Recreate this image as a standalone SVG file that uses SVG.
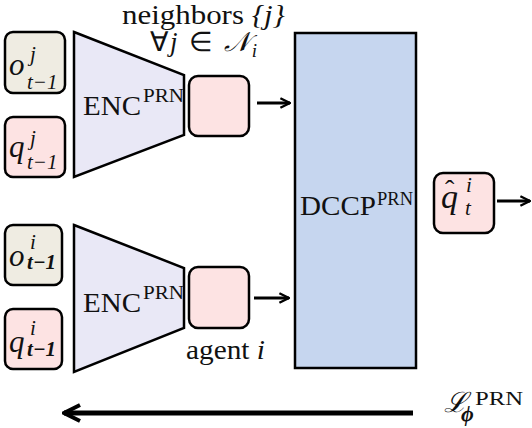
<svg xmlns="http://www.w3.org/2000/svg" width="532" height="428" viewBox="0 0 532 428">
<defs>
<style>
.bx{stroke:#000;stroke-width:2.5}
.obs{fill:#efece2}
.pk{fill:#fde3e3}
.enc{fill:#e9e8f6;stroke:#000;stroke-width:2.5}
.t{font-family:"Liberation Serif","Times New Roman",serif;fill:#111}
.m{font-family:"Liberation Serif","Times New Roman",serif;font-style:italic;fill:#111}
.ar{stroke:#000;stroke-width:3;fill:none}
</style>
<marker id="ah" viewBox="0 0 10 10" refX="9" refY="5" markerWidth="4" markerHeight="4" orient="auto" markerUnits="strokeWidth">
<path d="M1,1 L9,5 L1,9" fill="none" stroke="#000" stroke-width="2"/>
</marker>
</defs>
<rect width="532" height="428" fill="#fff"/>
<g id="obs_j">
<rect class="bx obs" x="5" y="32" width="60" height="61" rx="8"/>
<text class="m" x="9" y="75" font-size="31">o</text>
<text class="m" x="30" y="61" font-size="21">j</text>
<text class="m" x="27" y="89" font-size="21">t−1</text>
</g>
<g id="q_j">
<rect class="bx pk" x="5" y="117" width="60" height="60" rx="8"/>
<text class="m" x="9" y="157" font-size="31">q</text>
<text class="m" x="30" y="145" font-size="21">j</text>
<text class="m" x="27" y="169" font-size="21">t−1</text>
</g>
<g id="enc_j">
<path class="enc" d="M74,32 L184,75 L184,135 L74,177 Z"/>
<text class="t" x="83" y="115" font-size="27" textLength="58" lengthAdjust="spacingAndGlyphs">ENC</text>
<text class="t" x="143" y="102" font-size="19" textLength="41" lengthAdjust="spacingAndGlyphs">PRN</text>
</g>
<g id="emb_j">
<rect class="bx pk" x="189" y="76" width="60" height="60" rx="9"/>
</g>
<g id="obs_i">
<rect class="bx obs" x="5" y="225" width="57" height="60" rx="8"/>
<text class="m" x="9" y="266" font-size="31">o</text>
<text class="m" x="30" y="249" font-size="21">i</text>
<text class="m" x="27" y="269" font-size="21" font-weight="bold">t−1</text>
</g>
<g id="q_i">
<rect class="bx pk" x="5" y="309" width="57" height="60" rx="8"/>
<text class="m" x="9" y="352" font-size="31">q</text>
<text class="m" x="30" y="335" font-size="21">i</text>
<text class="m" x="27" y="356" font-size="21" font-weight="bold">t−1</text>
</g>
<g id="enc_i">
<path class="enc" d="M74,225 L184,268 L184,328 L74,372 Z"/>
<text class="t" x="83" y="312" font-size="27" textLength="58" lengthAdjust="spacingAndGlyphs">ENC</text>
<text class="t" x="143" y="299" font-size="19" textLength="41" lengthAdjust="spacingAndGlyphs">PRN</text>
</g>
<g id="emb_i">
<rect class="bx pk" x="189" y="267" width="60" height="61" rx="9"/>
</g>
<g id="dccp">
<rect class="bx" x="295" y="33" width="121" height="335" fill="#c6d6ef"/>
<text class="t" x="300" y="215" font-size="27" textLength="76" lengthAdjust="spacingAndGlyphs">DCCP</text>
<text class="t" x="377" y="205" font-size="18" textLength="36" lengthAdjust="spacingAndGlyphs">PRN</text>
</g>
<g id="qhat">
<rect class="bx pk" x="434" y="173" width="60" height="60" rx="9"/>
<text class="m" x="441" y="208" font-size="34">q</text>
<text class="t" x="445" y="199" font-size="28">ˆ</text>
<text class="m" x="466" y="192" font-size="21">i</text>
<text class="m" x="465" y="215" font-size="21">t</text>
</g>
<g id="labels">
<text class="t" x="122" y="24" font-size="27" textLength="163" lengthAdjust="spacingAndGlyphs">neighbors <tspan font-style="italic">{j}</tspan></text>
<text class="t" x="150" y="51" font-size="27" textLength="107" lengthAdjust="spacing">∀<tspan font-style="italic">j</tspan> ∈ <tspan font-style="italic">𝒩</tspan><tspan font-style="italic" font-size="19" dy="6">i</tspan></text>
<text class="t" x="186" y="359" font-size="28" textLength="79" lengthAdjust="spacingAndGlyphs">agent <tspan font-style="italic">i</tspan></text>
<text class="m" x="444" y="412" font-size="28">ℒ</text>
<text class="t" x="475" y="405" font-size="18" textLength="48" lengthAdjust="spacingAndGlyphs">PRN</text>
<text class="m" x="461" y="421" font-size="22" font-weight="bold">ϕ</text>
</g>
<g id="connectors">
<line class="ar" x1="257" y1="103" x2="290" y2="103" marker-end="url(#ah)"/>
<line class="ar" x1="254" y1="298" x2="289" y2="298" marker-end="url(#ah)"/>
<line class="ar" x1="497" y1="201" x2="530" y2="201" marker-end="url(#ah)"/>
<line x1="413" y1="413" x2="64" y2="413" stroke="#000" stroke-width="5" marker-end="url(#ah)"/>
</g>
</svg>
